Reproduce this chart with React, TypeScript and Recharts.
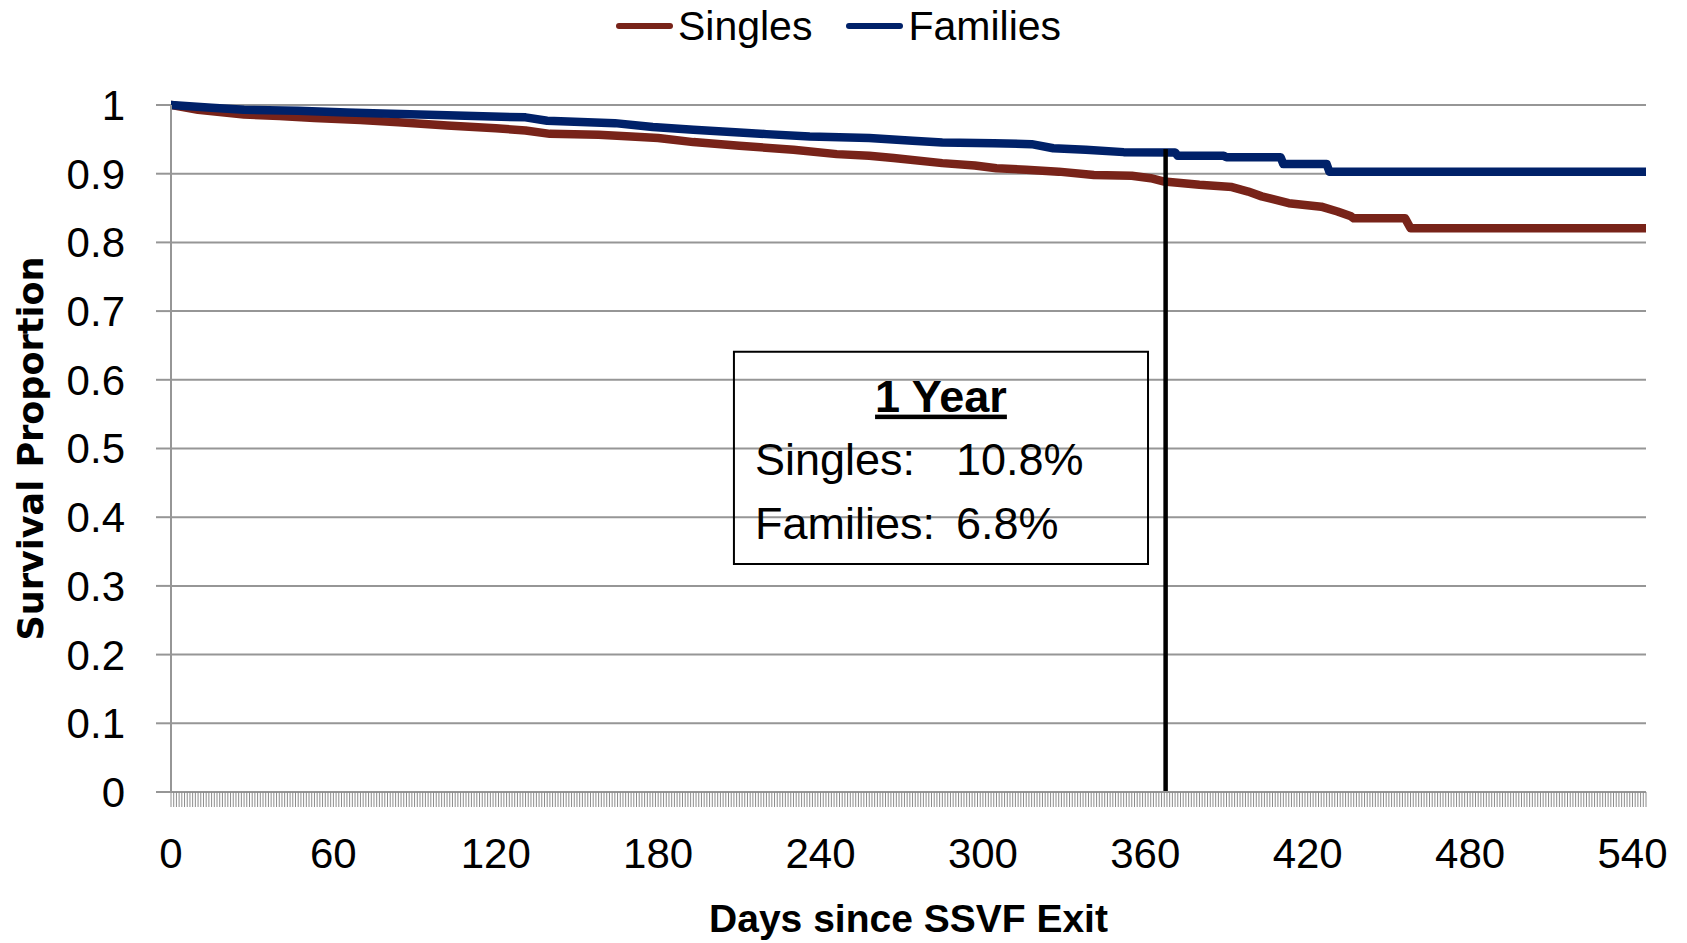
import { CartesianGrid, Legend, Line, LineChart, ReferenceArea, ReferenceLine, XAxis, YAxis } from "recharts";

// Kaplan-Meier style survival after SSVF exit
const singlesDays = [
  0, 10, 27, 40, 53, 70, 84, 102, 120, 131, 140, 158, 170, 180, 193, 210, 230, 246, 258, 267,
  285, 297, 305, 316, 328, 341, 355, 362, 367, 380, 392, 398, 403, 413, 425, 431, 436, 437, 456, 458, 545,
];
const singlesSurvival = [
  1.0, 0.993, 0.986, 0.984, 0.981, 0.978, 0.975, 0.97, 0.966, 0.963, 0.958, 0.9566, 0.954, 0.952, 0.946,
  0.9406, 0.935, 0.9285, 0.926, 0.9227, 0.9154, 0.912, 0.908, 0.9057, 0.903, 0.898, 0.897, 0.8935, 0.8886,
  0.8838, 0.8805, 0.874, 0.867, 0.857, 0.852, 0.845, 0.838, 0.835, 0.835, 0.8207, 0.8207,
];

const familiesDays = [
  0, 15, 27, 47, 65, 78, 102, 131, 139, 164, 178, 193, 210, 220, 236, 258, 274, 285, 304, 318, 326, 338,
  352, 371, 372, 389, 390, 410, 411, 427, 428, 545,
];
const familiesSurvival = [
  1.0, 0.996, 0.993, 0.9915, 0.989, 0.9876, 0.985, 0.982, 0.977, 0.9736, 0.968, 0.964, 0.96, 0.9576, 0.954,
  0.952, 0.948, 0.9454, 0.9445, 0.943, 0.937, 0.935, 0.9314, 0.931, 0.926, 0.926, 0.924, 0.924, 0.914, 0.914,
  0.903, 0.903,
];

const xTickLabels = [0, 60, 120, 180, 240, 300, 360, 420, 480, 540];
const yTicks = [0, 0.1, 0.2, 0.3, 0.4, 0.5, 0.6, 0.7, 0.8, 0.9, 1];
const xMax = 545;

const oneYearDay = 367.5;
const oneYearLineTop = 0.936;
const boxDays = [208, 361];
const boxSurvival = [0.332, 0.641];
const singlesOneYear = "10.8%";
const familiesOneYear = "6.8%";

const SINGLES_COLOR = "#782319";
const FAMILIES_COLOR = "#002169";
const GRID = "#969696";
const FONT = "'Liberation Sans', Arial, sans-serif";

const singlesData = singlesDays.map((day, i) => ({ day, value: singlesSurvival[i] }));
const familiesData = familiesDays.map((day, i) => ({ day, value: familiesSurvival[i] }));
// one minor tick per day, like the category axis in the original
const dayTicks = Array.from({ length: xMax + 1 }, (_, i) => i);

function DayTick(props: any) {
  const { x, y, payload } = props;
  if (!xTickLabels.includes(payload.value)) return <g />;
  return (
    <text x={x} y={y + 61} textAnchor="middle" fontSize={42} fontFamily={FONT} fill="#000">
      {payload.value}
    </text>
  );
}

function LegendContent() {
  const items = [
    { name: "Singles", color: SINGLES_COLOR },
    { name: "Families", color: FAMILIES_COLOR },
  ];
  return (
    <div style={{ display: "flex", justifyContent: "center", alignItems: "center", gap: 34, height: 52, paddingRight: 10 }}>
      {items.map((it) => (
        <div key={it.name} style={{ display: "flex", alignItems: "center", gap: 5 }}>
          <span style={{ display: "inline-block", width: 57, height: 6, borderRadius: 3, background: it.color }} />
          <span style={{ fontFamily: FONT, fontSize: 41, color: "#000", lineHeight: "52px" }}>{it.name}</span>
        </div>
      ))}
    </div>
  );
}

function BoxLabel(props: any) {
  const { x, y, width } = props.viewBox;
  return (
    <g fontFamily={FONT} fill="#000">
      <text x={x + width / 2} y={y + 60} textAnchor="middle" fontSize={45} fontWeight="bold" textDecoration="underline">
        1 Year
      </text>
      <text x={x + 21} y={y + 123} fontSize={45}>Singles:</text>
      <text x={x + 222} y={y + 123} fontSize={45}>{singlesOneYear}</text>
      <text x={x + 21} y={y + 187} fontSize={45}>Families:</text>
      <text x={x + 222} y={y + 187} fontSize={45}>{familiesOneYear}</text>
    </g>
  );
}

export default function App() {
  return (
    <div style={{ position: "absolute", left: 0, top: 0, width: 1687, height: 943, background: "#fff" }}>
      <LineChart width={1687} height={943} margin={{ top: 105, right: 41, left: 0, bottom: 0 }}>
        <Legend
          layout="horizontal"
          verticalAlign="middle"
          align="center"
          wrapperStyle={{ top: 0, left: 0, width: 1687, height: 52 }}
          content={() => <LegendContent />}
        />
        <CartesianGrid horizontal vertical={false} stroke={GRID} strokeWidth={2} />
        <XAxis
          type="number"
          dataKey="day"
          domain={[0, xMax]}
          ticks={dayTicks}
          interval={0}
          allowDataOverflow
          height={151}
          tickSize={15}
          tickMargin={0}
          tickLine={{ stroke: "#8c8c8c", strokeWidth: 1 }}
          axisLine={{ stroke: GRID, strokeWidth: 2 }}
          tick={<DayTick />}
          label={(p: any) => (
            <text
              x={p.viewBox.x + p.viewBox.width / 2}
              y={p.viewBox.y + 140}
              textAnchor="middle"
              fontFamily={FONT}
              fontSize={39}
              fontWeight="bold"
              fill="#000"
            >
              Days since SSVF Exit
            </text>
          )}
        />
        <YAxis
          type="number"
          domain={[0, 1]}
          ticks={yTicks}
          interval={0}
          width={171}
          tickSize={15}
          tickMargin={31}
          tickLine={{ stroke: GRID, strokeWidth: 2 }}
          axisLine={{ stroke: GRID, strokeWidth: 2 }}
          tick={{ fill: "#000", fontSize: 42, fontFamily: FONT }}
          tickFormatter={(v: number) => String(v)}
          label={(p: any) => {
            const cy = p.viewBox.y + p.viewBox.height / 2;
            return (
              <text
                x={43}
                y={cy}
                transform={`rotate(-90 43 ${cy})`}
                textAnchor="middle"
                fontFamily="'DejaVu Sans', Verdana, sans-serif"
                fontSize={35}
                fontWeight="bold"
                fill="#000"
              >
                Survival Proportion
              </text>
            );
          }}
        />
        <ReferenceArea
          x1={boxDays[0]}
          x2={boxDays[1]}
          y1={boxSurvival[0]}
          y2={boxSurvival[1]}
          fill="none"
          fillOpacity={0}
          stroke="#000"
          strokeWidth={2}
          label={(p: any) => <BoxLabel {...p} />}
        />
        <Line
          data={singlesData}
          dataKey="value"
          name="Singles"
          type="linear"
          stroke={SINGLES_COLOR}
          strokeWidth={8.5}
          strokeLinejoin="round"
          strokeLinecap="round"
          dot={false}
          isAnimationActive={false}
        />
        <Line
          data={familiesData}
          dataKey="value"
          name="Families"
          type="linear"
          stroke={FAMILIES_COLOR}
          strokeWidth={8.5}
          strokeLinejoin="round"
          strokeLinecap="round"
          dot={false}
          isAnimationActive={false}
        />
        <ReferenceLine
          segment={[
            { x: oneYearDay, y: 0 },
            { x: oneYearDay, y: oneYearLineTop },
          ]}
          stroke="#000"
          strokeWidth={4.5}
        />
      </LineChart>
    </div>
  );
}
